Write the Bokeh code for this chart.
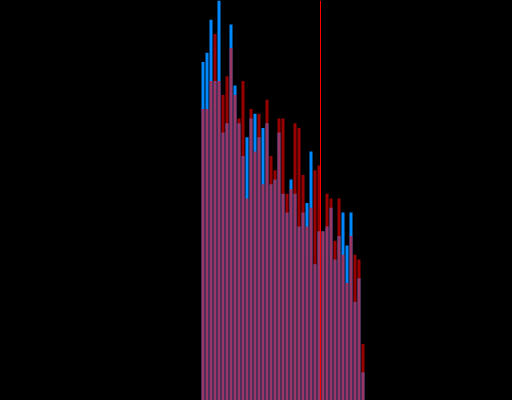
from bokeh.plotting import figure
from bokeh.models import Range1d, Span
from bokeh.embed import file_html
from bokeh.resources import INLINE

# bin index for each bar
bins = list(range(41))
# counts per bin, blue series
blue_counts = [72, 74, 81, 68, 90, 57, 59, 80, 67, 59, 52, 56, 60, 61, 56, 58, 59, 46, 47, 57,
               44, 40, 47, 44, 37, 40, 42, 53, 29, 36, 36, 37, 41, 30, 35, 40, 33, 40, 21, 26, 6]
# counts per bin, red series
red_counts = [62, 62, 68, 78, 68, 65, 69, 75, 65, 60, 68, 43, 62, 53, 61, 46, 64, 52, 49, 60,
              60, 44, 45, 59, 58, 48, 37, 41, 49, 50, 36, 44, 43, 34, 43, 31, 25, 35, 31, 30, 12]
# position of the vertical marker line
marker_x = 29.375

p = figure(width=512, height=400, output_backend="svg", toolbar_location=None,
           x_range=Range1d(-50.625, 77.375), y_range=Range1d(0, 85.106),
           min_border=0, min_border_left=0, min_border_right=0,
           min_border_top=0, min_border_bottom=0,
           background_fill_color="#000000", border_fill_color="#000000",
           outline_line_color=None)
p.axis.visible = False
p.xaxis.visible = False
p.yaxis.visible = False
p.grid.visible = False

p.vbar(x=bins, top=blue_counts, width=0.75, bottom=0,
       fill_color="#0088ff", line_color=None)
p.vbar(x=bins, top=red_counts, width=0.75, bottom=0,
       fill_color="#ff0000", fill_alpha=0.6, line_color=None)

p.add_layout(Span(location=marker_x, dimension="height",
                  line_color="#ff0000", line_width=1))

html = file_html(p, INLINE)
html = html.replace("<head>", "<head><style>html,body{margin:0;padding:0;background:#000;overflow:hidden}</style>", 1)
open("out.html", "w").write(html)
